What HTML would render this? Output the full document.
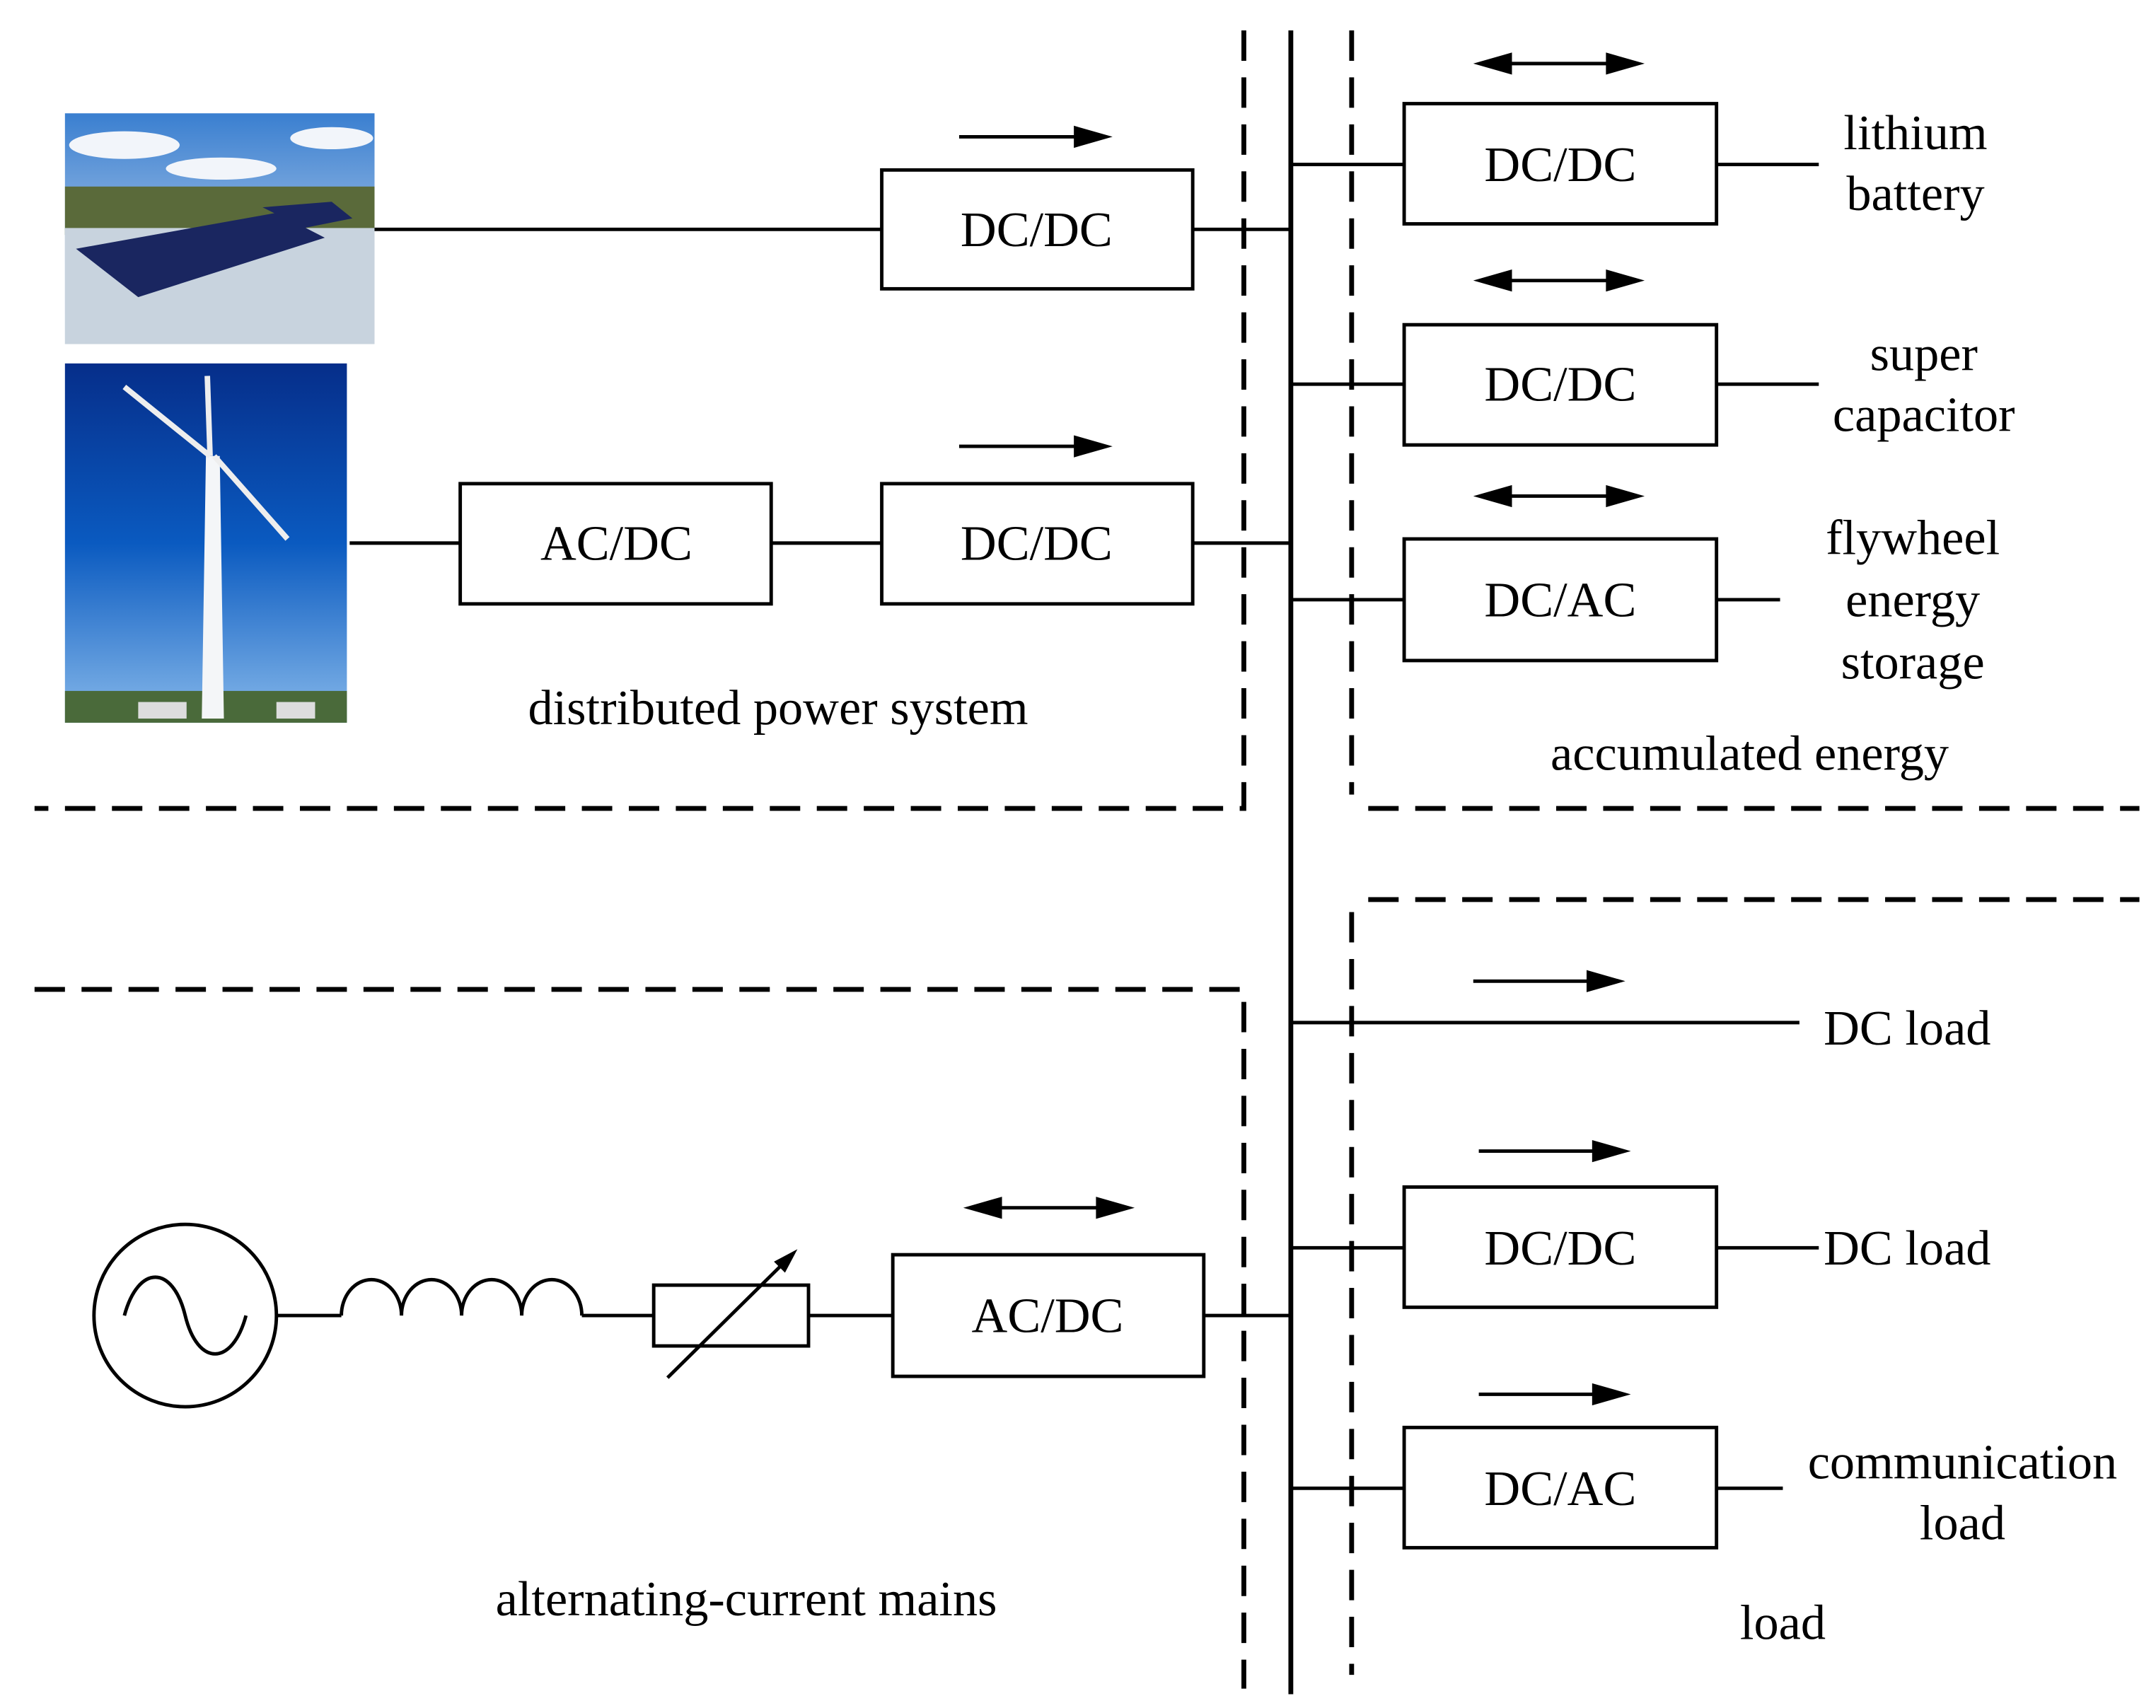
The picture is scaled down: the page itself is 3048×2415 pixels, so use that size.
<!DOCTYPE html>
<html><head><meta charset="utf-8"><style>
html,body{margin:0;padding:0;background:#fff;}
svg{display:block;}
text{font-family:"Liberation Serif",serif;font-size:36px;fill:#000;}
</style></head><body>
<svg width="3048" height="2415" viewBox="0 0 1560 1236" preserveAspectRatio="none" xmlns="http://www.w3.org/2000/svg">
<defs>
<marker id="ah" markerWidth="10" markerHeight="8" refX="9" refY="4" orient="auto-start-reverse" markerUnits="userSpaceOnUse">
</marker>
<linearGradient id="sky1" x1="0" y1="0" x2="0" y2="1"><stop offset="0" stop-color="#3a7fd0"/><stop offset="1" stop-color="#dfe8f3"/></linearGradient>
<linearGradient id="sky2" x1="0" y1="0" x2="0" y2="1"><stop offset="0" stop-color="#062e8a"/><stop offset="0.5" stop-color="#0a5ac0"/><stop offset="1" stop-color="#86b8ea"/></linearGradient>
</defs>
<!-- solar photo -->
<rect x="47" y="82" width="224" height="167" fill="url(#sky1)"/>
<ellipse cx="90" cy="105" rx="40" ry="10" fill="#f2f5fa"/>
<ellipse cx="160" cy="122" rx="40" ry="8" fill="#f2f5fa"/>
<ellipse cx="240" cy="100" rx="30" ry="8" fill="#f2f5fa"/>
<rect x="47" y="135" width="224" height="35" fill="#5a6a3a"/>
<rect x="47" y="165" width="224" height="84" fill="#c8d3de"/>
<polygon points="55,180 200,154 235,172 100,215" fill="#1a2660"/>
<polygon points="190,150 240,146 255,158 220,165" fill="#1a2660"/>
<!-- wind photo -->
<rect x="47" y="263" width="204" height="260" fill="url(#sky2)"/>
<rect x="47" y="500" width="204" height="23" fill="#4a6a3a"/>
<polygon points="149,330 159,330 162,520 146,520" fill="#f4f6f8"/>
<line x1="152" y1="330" x2="90" y2="280" stroke="#eee" stroke-width="4"/>
<line x1="152" y1="330" x2="150" y2="272" stroke="#eee" stroke-width="4"/>
<line x1="155" y1="330" x2="208" y2="390" stroke="#eee" stroke-width="4"/>
<rect x="100" y="508" width="35" height="12" fill="#ddd"/>
<rect x="200" y="508" width="28" height="12" fill="#ddd"/>

<g stroke="#000" fill="none">
<!-- dashed -->
<g stroke-width="3.5" stroke-dasharray="22,12">
<polyline points="900,22 900,585 25,585"/>
<polyline points="978,22 978,575"/>
<line x1="990" y1="585" x2="1548" y2="585"/>
<polyline points="25,716 900,716 900,1222"/>
<line x1="990" y1="651" x2="1548" y2="651"/>
<line x1="978" y1="660" x2="978" y2="1212"/>
</g>
<!-- bus -->
<line x1="934" y1="22" x2="934" y2="1226" stroke-width="3.5"/>
<g stroke-width="2.5">
<rect x="638" y="123" width="225" height="86"/>
<rect x="333" y="350" width="225" height="87"/>
<rect x="638" y="350" width="225" height="87"/>
<rect x="1016" y="75" width="226" height="87"/>
<rect x="1016" y="235" width="226" height="87"/>
<rect x="1016" y="390" width="226" height="88"/>
<rect x="646" y="908" width="225" height="88"/>
<rect x="1016" y="859" width="226" height="87"/>
<rect x="1016" y="1033" width="226" height="87"/>
<line x1="271" y1="166" x2="638" y2="166"/>
<line x1="863" y1="166" x2="934" y2="166"/>
<line x1="253" y1="393" x2="333" y2="393"/>
<line x1="558" y1="393" x2="638" y2="393"/>
<line x1="863" y1="393" x2="934" y2="393"/>
<line x1="934" y1="119" x2="1016" y2="119"/>
<line x1="934" y1="278" x2="1016" y2="278"/>
<line x1="934" y1="434" x2="1016" y2="434"/>
<line x1="1242" y1="119" x2="1316" y2="119"/>
<line x1="1242" y1="278" x2="1316" y2="278"/>
<line x1="1242" y1="434" x2="1288" y2="434"/>
<line x1="934" y1="740" x2="1302" y2="740"/>
<line x1="934" y1="903" x2="1016" y2="903"/>
<line x1="1242" y1="903" x2="1316" y2="903"/>
<line x1="934" y1="1077" x2="1016" y2="1077"/>
<line x1="1242" y1="1077" x2="1290" y2="1077"/>
<line x1="871" y1="952" x2="934" y2="952"/>
<!-- AC source -->
<circle cx="134" cy="952" r="66"/>
<path d="M90,952 C100,915 125,915 134,952 C143,989 168,989 178,952"/>
<line x1="200" y1="952" x2="247" y2="952"/>
<path d="M247,952 a21.75,26 0 0 1 43.5,0 a21.75,26 0 0 1 43.5,0 a21.75,26 0 0 1 43.5,0 a21.75,26 0 0 1 43.5,0"/>
<line x1="421" y1="952" x2="473" y2="952"/>
<rect x="473" y="930" width="112" height="44"/>
<line x1="483" y1="997" x2="566" y2="915"/>
<line x1="585" y1="952" x2="646" y2="952"/>
<!-- arrows shafts -->
<line x1="694" y1="99" x2="785" y2="99"/>
<line x1="694" y1="323" x2="785" y2="323"/>
<line x1="1086" y1="46" x2="1170" y2="46"/>
<line x1="1086" y1="203" x2="1170" y2="203"/>
<line x1="1086" y1="359" x2="1170" y2="359"/>
<line x1="1066" y1="710" x2="1156" y2="710"/>
<line x1="1070" y1="833" x2="1160" y2="833"/>
<line x1="1070" y1="1009" x2="1160" y2="1009"/>
<line x1="717" y1="874" x2="801" y2="874"/>
</g>
</g>
<g fill="#000">
<polygon points="577,904 560,913 568,921"/>
<polygon points="805,99 777,91 777,107"/>
<polygon points="805,323 777,315 777,331"/>
<polygon points="1190,46 1162,38 1162,54"/><polygon points="1066,46 1094,38 1094,54"/>
<polygon points="1190,203 1162,195 1162,211"/><polygon points="1066,203 1094,195 1094,211"/>
<polygon points="1190,359 1162,351 1162,367"/><polygon points="1066,359 1094,351 1094,367"/>
<polygon points="1176,710 1148,702 1148,718"/>
<polygon points="1180,833 1152,825 1152,841"/>
<polygon points="1180,1009 1152,1001 1152,1017"/>
<polygon points="821,874 793,866 793,882"/><polygon points="697,874 725,866 725,882"/>
</g>
<g text-anchor="middle">
<text x="750" y="178">DC/DC</text>
<text x="446" y="405">AC/DC</text>
<text x="750" y="405">DC/DC</text>
<text x="1129" y="131">DC/DC</text>
<text x="1129" y="290">DC/DC</text>
<text x="1129" y="446">DC/AC</text>
<text x="758" y="964">AC/DC</text>
<text x="1129" y="915">DC/DC</text>
<text x="1129" y="1089">DC/AC</text>
<text x="1386" y="108">lithium</text>
<text x="1386" y="152">battery</text>
<text x="1392" y="268">super</text>
<text x="1392" y="312">capacitor</text>
<text x="1384" y="401">flywheel</text>
<text x="1384" y="446">energy</text>
<text x="1384" y="491">storage</text>
<text x="563" y="524">distributed power system</text>
<text x="1266" y="557">accumulated energy</text>
<text x="1380" y="756">DC load</text>
<text x="1380" y="915">DC load</text>
<text x="1420" y="1070">communication</text>
<text x="1420" y="1114">load</text>
<text x="540" y="1169">alternating-current mains</text>
<text x="1290" y="1186">load</text>
</g>
</svg>
</body></html>
